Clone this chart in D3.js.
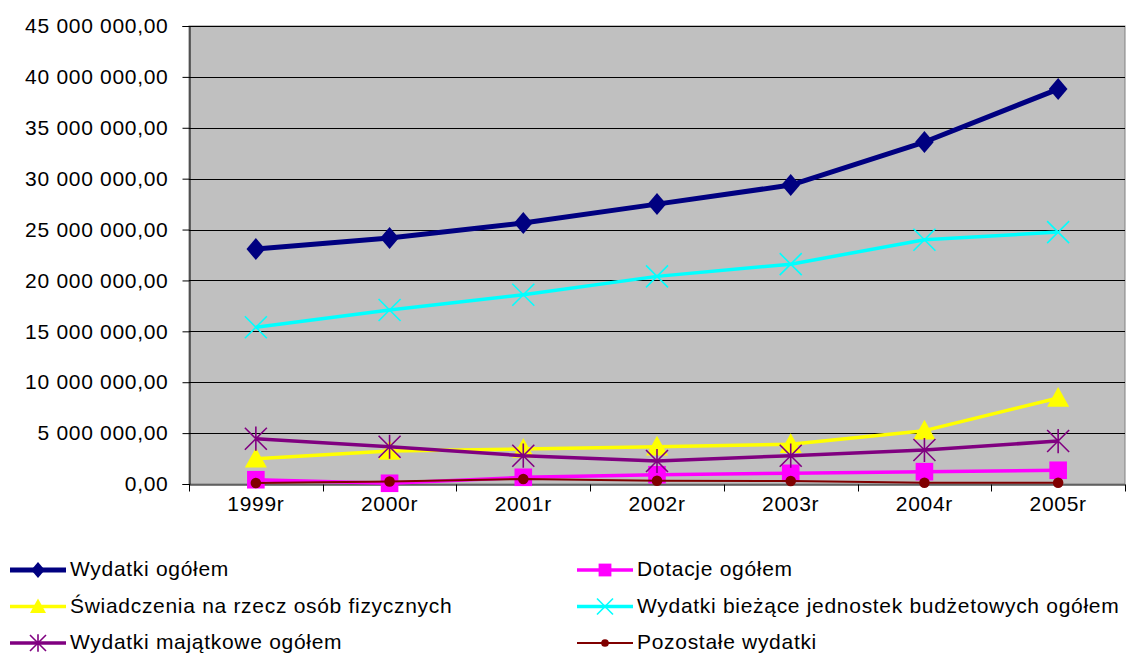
<!DOCTYPE html>
<html>
<head>
<meta charset="utf-8">
<script src="https://cdn.jsdelivr.net/npm/d3@7"></script>
<style>
	body { margin: 0; background: #fff; }
	text { font-family: "Liberation Sans", Arial, sans-serif; fill: #000; }
</style>
</head>
<body>
<svg width="1132" height="655"></svg>
<script>
// years on the x axis
var years = ['1999r', '2000r', '2001r', '2002r', '2003r', '2004r', '2005r'];

// series values (PLN)
var wydatkiOgolem   = [23080000, 24170000, 25640000, 27500000, 29370000, 33600000, 38800000];
var dotacjeOgolem   = [420000, 70000, 660000, 910000, 1050000, 1210000, 1350000];
var swiadczenia     = [2490000, 3240000, 3440000, 3660000, 3900000, 5240000, 8450000];
var wydatkiBiezace  = [15400000, 17100000, 18600000, 20400000, 21600000, 24000000, 24750000];
var wydatkiMajatkowe = [4450000, 3660000, 2780000, 2260000, 2780000, 3340000, 4220000];
var pozostale       = [100000, 250000, 490000, 320000, 300000, 130000, 130000];

var yTicks = [0, 5e6, 10e6, 15e6, 20e6, 25e6, 30e6, 35e6, 40e6, 45e6];

var series = [
	{ name: 'Wydatki ogółem', values: wydatkiOgolem, color: '#000080', width: 5, marker: 'diamond' },
	{ name: 'Dotacje ogółem', values: dotacjeOgolem, color: '#ff00ff', width: 3.5, marker: 'square' },
	{ name: 'Świadczenia na rzecz osób fizycznych', values: swiadczenia, color: '#ffff00', width: 3.5, marker: 'triangle' },
	{ name: 'Wydatki bieżące jednostek budżetowych ogółem', values: wydatkiBiezace, color: '#00ffff', width: 3.5, marker: 'x' },
	{ name: 'Wydatki majątkowe ogółem', values: wydatkiMajatkowe, color: '#800080', width: 3.5, marker: 'star' },
	{ name: 'Pozostałe wydatki', values: pozostale, color: '#800000', width: 2, marker: 'circle' }
];

var svg = d3.select('svg');
var plotLeft = 189, plotRight = 1125, plotTop = 26, plotBottom = 484;
var fontSize = '21px', spacing = '0.7px';

var pl = d3.formatLocale({ decimal: ',', thousands: ' ', grouping: [3], currency: ['', ''] });
var fmt = pl.format(',.2f');

var x = d3.scaleBand().domain(years).range([plotLeft, plotRight]);
var y = d3.scaleLinear().domain([0, 45e6]).range([plotBottom, plotTop]);

// plot background
svg.append('rect')
	.attr('x', plotLeft).attr('y', plotTop)
	.attr('width', plotRight - plotLeft).attr('height', plotBottom - plotTop)
	.attr('fill', '#c0c0c0')
	.attr('stroke', '#808080').attr('stroke-width', 1);

// gridlines
svg.append('g')
	.selectAll('line')
	.data(yTicks.filter(function(d) { return d > 0; }))
	.enter().append('line')
		.attr('x1', plotLeft).attr('x2', plotRight)
		.attr('y1', function(d) { return Math.round(y(d)) + 0.5; })
		.attr('y2', function(d) { return Math.round(y(d)) + 0.5; })
		.attr('stroke', '#000').attr('stroke-width', 1);

// y axis
var yAxis = svg.append('g')
	.attr('transform', 'translate(' + (plotLeft + 0.5) + ',0)')
	.call(d3.axisLeft(y).tickValues(yTicks).tickFormat(fmt).tickSize(7).tickPadding(14));
yAxis.select('.domain').attr('stroke', '#000');
yAxis.selectAll('text').style('font-size', fontSize).style('letter-spacing', spacing)
	.style('font-family', '"Liberation Sans", Arial, sans-serif').attr('fill', '#000');

// x axis
var xAxis = svg.append('g')
	.attr('transform', 'translate(0,' + (plotBottom + 0.5) + ')')
	.call(d3.axisBottom(x).tickSize(0).tickPadding(12));
xAxis.select('.domain').attr('stroke', '#000');
xAxis.selectAll('text').style('font-size', fontSize).style('letter-spacing', spacing)
	.style('font-family', '"Liberation Sans", Arial, sans-serif').attr('fill', '#000');
xAxis.selectAll('.sep')
	.data(d3.range(years.length + 1))
	.enter().append('line')
		.attr('class', 'sep')
		.attr('x1', function(i) { return Math.round(plotLeft + i * x.step()) + 0.5; })
		.attr('x2', function(i) { return Math.round(plotLeft + i * x.step()) + 0.5; })
		.attr('y1', 0).attr('y2', 7)
		.attr('stroke', '#000');

function cx(i) { return x(years[i]) + x.bandwidth() / 2; }

function drawMarker(g, type, color, s) {
	if (type == 'diamond') {
		g.append('path').attr('d', 'M0,' + (-s) + 'L' + (s * 0.85) + ',0L0,' + s + 'L' + (-s * 0.85) + ',0Z').attr('fill', color);
	} else if (type == 'square') {
		g.append('rect').attr('x', -s * 0.8).attr('y', -s * 0.8).attr('width', s * 1.6).attr('height', s * 1.6).attr('fill', color);
	} else if (type == 'triangle') {
		g.append('path').attr('d', 'M0,' + (-s) + 'L' + s + ',' + (s * 0.8) + 'L' + (-s) + ',' + (s * 0.8) + 'Z').attr('fill', color);
	} else if (type == 'x') {
		g.append('path').attr('d', 'M' + (-s) + ',' + (-s) + 'L' + s + ',' + s + 'M' + s + ',' + (-s) + 'L' + (-s) + ',' + s)
			.attr('stroke', color).attr('stroke-width', 1.6).attr('fill', 'none');
	} else if (type == 'star') {
		g.append('path').attr('d', 'M' + (-s) + ',' + (-s) + 'L' + s + ',' + s + 'M' + s + ',' + (-s) + 'L' + (-s) + ',' + s + 'M0,' + (-s * 1.1) + 'L0,' + (s * 1.1))
			.attr('stroke', color).attr('stroke-width', 1.6).attr('fill', 'none');
	} else if (type == 'circle') {
		g.append('circle').attr('r', s * 0.48).attr('fill', color);
	}
}

var line = d3.line()
	.x(function(d, i) { return cx(i); })
	.y(function(d) { return y(d); });

// series in order, later ones drawn on top
var plot = svg.append('g');
series.forEach(function(s) {
	var g = plot.append('g');
	g.append('path')
		.datum(s.values)
		.attr('d', line)
		.attr('fill', 'none')
		.attr('stroke', s.color)
		.attr('stroke-width', s.width)
		.attr('stroke-linejoin', 'round');
	s.values.forEach(function(v, i) {
		var m = g.append('g').attr('transform', 'translate(' + cx(i) + ',' + y(v) + ')');
		drawMarker(m, s.marker, s.color, 11);
	});
});

// legend, two columns
var legend = svg.append('g');
series.forEach(function(s, i) {
	var col = i % 2, row = Math.floor(i / 2);
	var lx = col == 0 ? 10 : 577;
	var ly = 570 + row * 36.5;
	var g = legend.append('g').attr('transform', 'translate(' + lx + ',' + ly + ')');
	g.append('line').attr('x1', 0).attr('x2', 56).attr('y1', 0).attr('y2', 0)
		.attr('stroke', s.color).attr('stroke-width', s.width);
	var m = g.append('g').attr('transform', 'translate(28,0)');
	drawMarker(m, s.marker, s.color, 8);
	g.append('text').attr('x', 60).attr('y', 0).attr('dy', '0.3em')
		.style('font-size', fontSize).style('letter-spacing', spacing).text(s.name);
});
</script>
</body>
</html>
